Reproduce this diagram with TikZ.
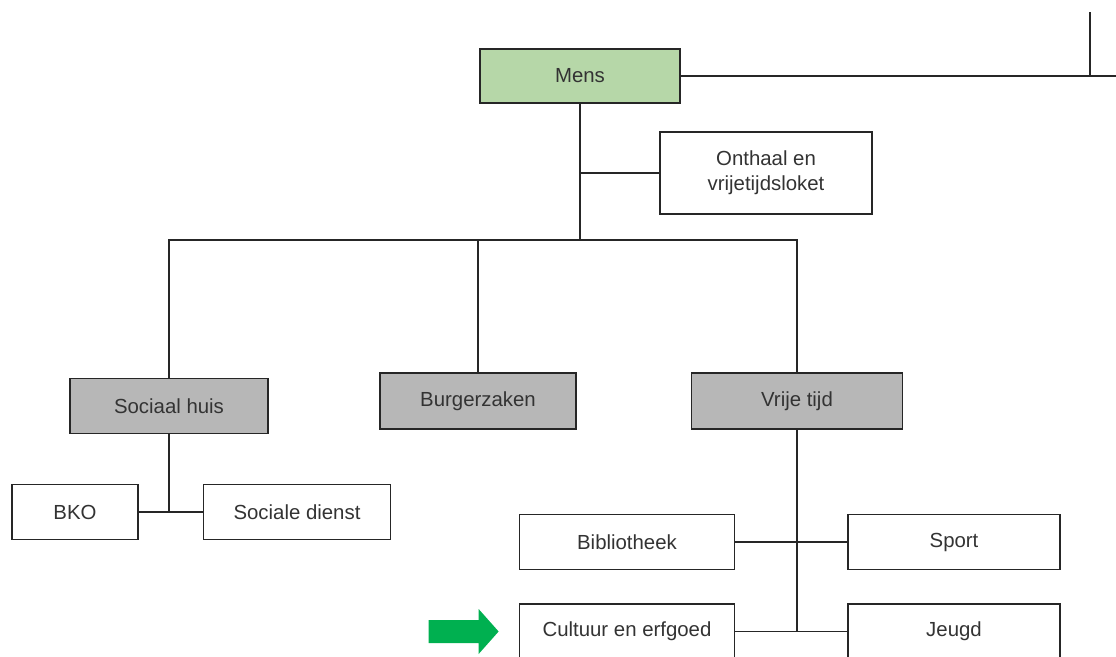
\documentclass[tikz,border=0pt]{standalone}
\usepackage{fontspec}
\setmainfont{Liberation Sans}
\usepackage{tikz}
\usetikzlibrary{positioning}
\definecolor{mensgreen}{HTML}{B6D7A8}
\definecolor{dienstgray}{HTML}{B7B7B7}
\definecolor{pijlgreen}{HTML}{00B050}
\definecolor{tekstgray}{HTML}{333333}
\tikzset{d/.style={line width=1pt, draw=black!85}}

\begin{document}
\begin{tikzpicture}[
boxnode/.style={rectangle, d, fill=white, text=tekstgray, minimum height=1.1cm, align=center, inner sep=2pt, font=\fontsize{11.6}{14}\selectfont},
topnode/.style={boxnode, fill=mensgreen},
deptnode/.style={boxnode, fill=dienstgray},
]
\useasboundingbox (0,0) rectangle (22.32,-13.14);
%Nodes
\node[topnode, minimum width=4cm, minimum height=1.08cm]   (mens)     at (11.6,-1.52)  {Mens};
\node[boxnode, minimum width=4.24cm, minimum height=1.64cm] (onthaal) at (15.32,-3.46) {Onthaal en\\vrijetijdsloket};
\node[deptnode, minimum width=3.96cm]  (sociaal)  at (3.38,-8.12)  {Sociaal huis};
\node[deptnode, minimum width=3.92cm, minimum height=1.12cm] (burger) at (9.56,-8.02) {Burgerzaken};
\node[deptnode, minimum width=4.22cm, minimum height=1.12cm] (vrije)  at (15.94,-8.02) {Vrije tijd};
\node[boxnode, minimum width=2.52cm]   (bko)      at (1.5,-10.24)  {BKO};
\node[boxnode, minimum width=3.74cm]   (sociale)  at (5.94,-10.24) {Sociale dienst};
\node[boxnode, minimum width=4.3cm]    (biblio)   at (12.54,-10.84) {Bibliotheek};
\node[boxnode, minimum width=4.24cm]   (sport)    at (19.08,-10.84) {Sport};
\node[boxnode, minimum width=4.3cm]    (cultuur)  at (12.54,-12.63) {Cultuur en erfgoed};
\node[boxnode, minimum width=4.24cm]   (jeugd)    at (19.08,-12.63) {Jeugd};
\coordinate (bus) at (11.6,-4.8);
\coordinate (hoek) at (21.8,-1.52);
\coordinate (hoektop) at (21.8,-0.24);
\coordinate (rand) at (22.4,-1.52);
\coordinate (pijlpunt) at ([xshift=-0.4cm]cultuur.west);

%Lines
\draw[d] (mens.east) -- (hoek) -- (hoektop);
\draw[d] (hoek) -- (rand);
\draw[d] (mens.south) -- (mens.south |- bus);
\draw[d] (mens.south |- onthaal.west) -- (onthaal.west);
\draw[d] (sociaal.north) -- (sociaal.north |- bus) -- (vrije.north |- bus) -- (vrije.north);
\draw[d] (burger.north) -- (burger.north |- bus);
\draw[d] (sociaal.south) -- (sociaal.south |- bko.east);
\draw[d] (bko.east) -- (sociale.west);
\draw[d] (vrije.south) -- (vrije.south |- cultuur.east);
\draw[d] (biblio.east) -- (sport.west);
\draw[d] (cultuur.east) -- (jeugd.west);

%Arrow
\fill[pijlgreen] (pijlpunt) -- ++(-0.4,0.45) -- ++(0,-0.22) -- ++(-1,0) -- ++(0,-0.46) -- ++(1,0) -- ++(0,-0.22) -- cycle;
\end{tikzpicture}
\end{document}
